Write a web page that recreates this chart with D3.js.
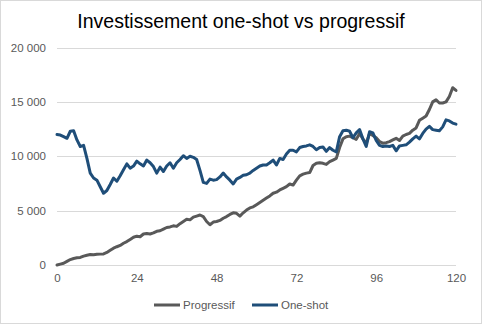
<!DOCTYPE html>
<html><head><meta charset="utf-8">
<script src="https://cdn.jsdelivr.net/npm/d3@7"></script>
<style>html,body{margin:0;padding:0;background:#fff;}svg{display:block;font-family:"Liberation Sans",Arial,sans-serif;}</style>
</head><body>
<script>
const title = "Investissement one-shot vs progressif";
const seriesNames = ["Progressif", "One-shot"];
const xTicks = [0, 24, 48, 72, 96, 120];
const yTicks = [0, 5000, 10000, 15000, 20000];
const progressif = [0,80,160,330,500,600,660,700,820,900,960,950,990,1000,1020,1150,1350,1550,1680,1800,
2000,2150,2350,2550,2650,2600,2850,2900,2850,2950,3100,3150,3300,3450,3500,3600,3550,3800,4000,4200,
4150,4400,4500,4600,4450,4000,3700,3950,4000,4100,4300,4450,4650,4800,4750,4500,4800,5050,5250,5350,
5550,5750,5950,6150,6350,6600,6700,6900,7050,7200,7450,7350,7800,8200,8350,8450,8500,9150,9350,9400,
9350,9250,9500,9650,9800,10800,11600,11800,11850,11700,11550,12100,11600,11200,12100,11900,11700,11350,11200,11250,
11350,11500,11650,11450,11850,12000,12100,12400,12600,13300,13500,13700,14300,15000,15200,14900,14900,15000,15500,16300,16050];
const oneShot = [12000,11950,11800,11650,12300,12350,11500,10900,11000,9800,8450,8000,7800,7200,6600,6850,7400,8000,7700,8200,
8750,9300,8900,9100,9550,9300,9100,9650,9400,9050,8450,9000,8600,9100,9400,8900,9400,9700,10050,9800,
10000,9900,9700,8700,7600,7500,7900,7800,7850,8100,8450,8100,7800,7450,7900,8050,8250,8300,8450,8700,
8900,9100,9200,9200,9400,9650,9200,9800,9700,10200,10550,10550,10400,10800,10900,10950,11050,10900,10600,10800,
10850,10450,10800,10550,10400,11800,12350,12400,12300,11700,12150,12450,11600,10900,12250,12150,11450,11000,10900,10950,
10900,11000,10500,10950,11000,11050,11300,11600,11850,11600,12100,12500,12750,12450,12400,12350,12700,13350,13250,13050,12950];
const colors = ["#595959", "#1f4e79"];

const W = 482, H = 324;
const svg = d3.select("body").append("svg").attr("width", W).attr("height", H);
svg.append("rect").attr("x",0.5).attr("y",0.5).attr("width",W-1).attr("height",H-1)
  .attr("fill","#fff").attr("stroke","#d9d9d9");

const x = d3.scaleLinear().domain([0,120]).range([57,456]);
const y = d3.scaleLinear().domain([0,20000]).range([265,47.5]);
const fmt = v => d3.format(",")(v).replace(/,/g, " ");

svg.append("text").attr("x",241).attr("y",28).attr("text-anchor","middle")
  .attr("font-size",19.5).attr("fill","#000").text(title);

// grid
svg.append("g").selectAll("line").data(yTicks).join("line")
  .attr("x1",x(0)).attr("x2",x(120)).attr("y1",d=>Math.round(y(d))+0.5).attr("y2",d=>Math.round(y(d))+0.5)
  .attr("stroke","#d9d9d9").attr("stroke-width",1);

const yAxis = svg.append("g").attr("transform","translate(46,0)")
  .call(d3.axisLeft(y).tickValues(yTicks).tickFormat(fmt).tickSize(0).tickPadding(0));
yAxis.select(".domain").remove();
yAxis.selectAll("text").attr("font-size",11.5).attr("fill","#595959").attr("font-family","Liberation Sans, Arial, sans-serif");

const xAxis = svg.append("g").attr("transform","translate(0,271)")
  .call(d3.axisBottom(x).tickValues(xTicks).tickSize(0).tickPadding(3));
xAxis.select(".domain").remove();
xAxis.selectAll("text").attr("font-size",11.5).attr("fill","#595959").attr("font-family","Liberation Sans, Arial, sans-serif");

const line = d3.line().x((d,i)=>x(i)).y(d=>y(d));
[progressif, oneShot].forEach((s,k)=>{
  svg.append("path").datum(s).attr("d",line).attr("fill","none")
    .attr("stroke",colors[k]).attr("stroke-width",3).attr("stroke-linejoin","round").attr("stroke-linecap","round");
});

// legend
const legX = [154, 252];
const lg = svg.append("g");
seriesNames.forEach((n,k)=>{
  lg.append("line").attr("x1",legX[k]).attr("x2",legX[k]+26).attr("y1",305).attr("y2",305)
    .attr("stroke",colors[k]).attr("stroke-width",3);
  lg.append("text").attr("x",legX[k]+29).attr("y",309).attr("font-size",11.5).attr("fill","#595959").text(n);
});
</script>
</body></html>
